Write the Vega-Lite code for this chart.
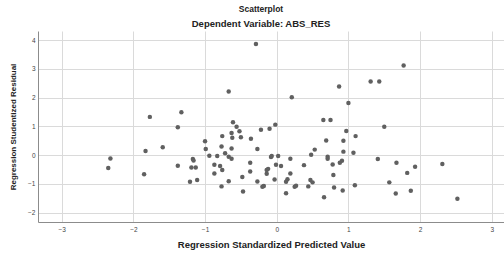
{
  "$schema": "https://vega.github.io/schema/vega-lite/v6.json",
  "autosize": "none",
  "width": 466,
  "height": 191,
  "padding": {"left": 38, "top": 31, "right": 0, "bottom": 31},
  "background": "white",
  "config": {
    "font": "Liberation Sans",
    "view": {"stroke": null},
    "axis": {
      "grid": true,
      "gridColor": "#dadada",
      "gridWidth": 1,
      "domainColor": "#8c8c8c",
      "domainWidth": 1,
      "ticks": false,
      "labelFontSize": 6.5,
      "labelColor": "#444",
      "titleFontSize": 9.5,
      "titleFontWeight": "bold",
      "titleColor": "#222"
    }
  },
  "title": {
    "text": "Scatterplot",
    "subtitle": "Dependent Variable: ABS_RES",
    "fontSize": 8.5,
    "fontWeight": "bold",
    "color": "#222",
    "subtitleFontSize": 9.5,
    "subtitleFontWeight": "bold",
    "subtitleColor": "#222",
    "subtitlePadding": 5,
    "offset": 3,
    "dx": -10
  },
  "data": {
    "values": [
      {"x": -2.32, "y": -0.12}, {"x": -2.35, "y": -0.45}, {"x": -1.77, "y": 1.33}, {"x": -1.83, "y": 0.14},
      {"x": -1.85, "y": -0.67}, {"x": -1.59, "y": 0.27}, {"x": -1.33, "y": 1.49}, {"x": -1.38, "y": 0.97},
      {"x": -1.38, "y": -0.37},
      {"x": -0.29, "y": 3.87}, {"x": -0.67, "y": 2.21}, {"x": 0.21, "y": 2.01}, {"x": 0.87, "y": 2.39},
      {"x": -0.61, "y": 1.14}, {"x": -0.56, "y": 0.99}, {"x": -0.52, "y": 0.83}, {"x": -0.63, "y": 0.77},
      {"x": -0.76, "y": 0.66}, {"x": -0.62, "y": 0.60}, {"x": -0.50, "y": 0.62}, {"x": -0.22, "y": 0.88},
      {"x": -0.10, "y": 0.92}, {"x": -0.02, "y": 1.06}, {"x": -0.36, "y": 0.57}, {"x": -1.00, "y": 0.48},
      {"x": -0.99, "y": 0.21}, {"x": -0.77, "y": 0.30}, {"x": -0.63, "y": 0.23}, {"x": -0.27, "y": 0.21},
      {"x": -0.72, "y": 0.06}, {"x": -0.67, "y": -0.06}, {"x": -0.63, "y": -0.13}, {"x": -0.94, "y": -0.02},
      {"x": -0.83, "y": -0.03}, {"x": -1.17, "y": -0.14}, {"x": -1.16, "y": -0.19}, {"x": -1.19, "y": -0.43},
      {"x": -1.13, "y": -0.43}, {"x": -0.87, "y": -0.34}, {"x": -0.79, "y": -0.38}, {"x": -0.76, "y": -0.52},
      {"x": -0.87, "y": -0.64}, {"x": -1.21, "y": -0.93}, {"x": -1.11, "y": -0.87}, {"x": -0.77, "y": -1.09},
      {"x": -0.67, "y": -0.91}, {"x": -0.48, "y": -0.76}, {"x": -0.47, "y": -1.27}, {"x": -0.37, "y": -0.27},
      {"x": -0.37, "y": -0.57}, {"x": -0.27, "y": -0.92}, {"x": -0.20, "y": -1.10}, {"x": -0.18, "y": -1.08},
      {"x": -0.14, "y": -0.52}, {"x": -0.12, "y": -0.48}, {"x": -0.14, "y": -0.65}, {"x": -0.08, "y": -0.07},
      {"x": -0.07, "y": -0.03}, {"x": 0.02, "y": -0.03}, {"x": -0.01, "y": -0.34}, {"x": 0.06, "y": -0.38},
      {"x": -0.03, "y": -0.85}, {"x": 0.13, "y": -0.93}, {"x": 0.15, "y": -0.84}, {"x": 0.19, "y": -0.64},
      {"x": 0.19, "y": -0.13}, {"x": 0.13, "y": -1.33}, {"x": 0.25, "y": -1.10}, {"x": 0.27, "y": -1.07},
      {"x": 0.38, "y": -0.35}, {"x": 0.44, "y": -1.09}, {"x": 0.47, "y": -0.87}, {"x": 0.50, "y": -0.95},
      {"x": 0.48, "y": 0.01}, {"x": 0.53, "y": 0.19}, {"x": 0.65, "y": 1.22}, {"x": 0.75, "y": 1.22},
      {"x": 0.69, "y": 0.51}, {"x": 0.71, "y": -0.06}, {"x": 0.71, "y": -0.13}, {"x": 0.78, "y": -0.33},
      {"x": 0.79, "y": -0.69}, {"x": 0.80, "y": -1.13}, {"x": 0.66, "y": -1.47}, {"x": 0.88, "y": -0.27},
      {"x": 1.77, "y": 3.12}, {"x": 1.31, "y": 2.56}, {"x": 1.43, "y": 2.56}, {"x": 1.00, "y": 1.81},
      {"x": 1.50, "y": 0.99}, {"x": 0.97, "y": 0.84}, {"x": 1.10, "y": 0.66}, {"x": 0.93, "y": 0.50},
      {"x": 0.93, "y": 0.12}, {"x": 1.07, "y": 0.08}, {"x": 0.91, "y": -0.20}, {"x": 0.92, "y": -1.23},
      {"x": 1.09, "y": -1.05}, {"x": 1.41, "y": -0.14}, {"x": 1.67, "y": -0.27}, {"x": 1.93, "y": -0.41},
      {"x": 2.31, "y": -0.31}, {"x": 1.82, "y": -0.62}, {"x": 1.57, "y": -0.95}, {"x": 1.66, "y": -1.34},
      {"x": 1.87, "y": -1.24}, {"x": 2.52, "y": -1.52}
    ]
  },
  "mark": {"type": "circle", "size": 20, "color": "#606060", "opacity": 1},
  "encoding": {
    "x": {
      "field": "x",
      "type": "quantitative",
      "scale": {"domain": [-3.33, 3.17], "nice": false, "zero": false},
      "axis": {"values": [-3, -2, -1, 0, 1, 2, 3], "title": "Regression Standardized Predicted Value", "labelPadding": 4, "titlePadding": 7}
    },
    "y": {
      "field": "y",
      "type": "quantitative",
      "scale": {"domain": [-2.33, 4.32], "nice": false, "zero": false},
      "axis": {"values": [-2, -1, 0, 1, 2, 3, 4], "title": "Regression Studentized Residual", "titleFontSize": 8, "labelPadding": 3, "titlePadding": 10}
    }
  }
}
